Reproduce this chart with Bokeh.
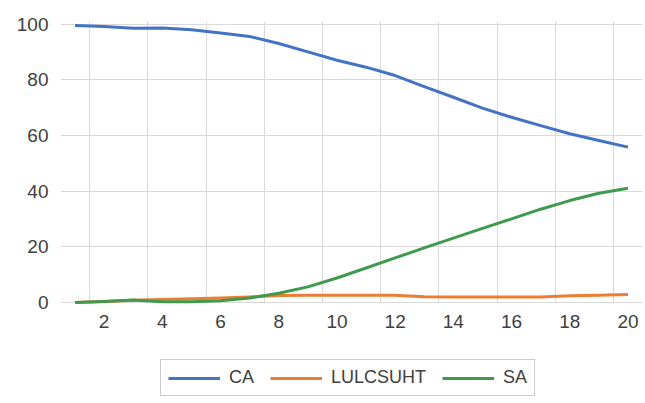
from bokeh.plotting import figure
from bokeh.models import Range1d, FixedTicker, Legend, LegendItem, BoxAnnotation
from bokeh.embed import file_html
from bokeh.resources import INLINE

# Series values per step (1..20)
steps = list(range(1, 21))
ca = [99.5, 99.1, 98.5, 98.6, 97.9, 96.8, 95.5, 93.0, 90.0, 87.0,
      84.5, 81.5, 77.5, 73.7, 69.8, 66.5, 63.5, 60.6, 58.2, 55.8]
lulcsuht = [0.0, 0.4, 0.8, 1.1, 1.3, 1.6, 2.0, 2.5, 2.6, 2.6,
            2.6, 2.6, 2.1, 2.0, 2.0, 2.0, 2.0, 2.4, 2.6, 2.9]
sa = [0.0, 0.4, 0.9, 0.3, 0.3, 0.6, 1.6, 3.3, 5.6, 8.8,
      12.4, 16.0, 19.6, 23.1, 26.6, 30.0, 33.5, 36.6, 39.2, 41.0]

x_ticks = [2, 4, 6, 8, 10, 12, 14, 16, 18, 20]
y_ticks = [0, 20, 40, 60, 80, 100]

BLUE = "#4472C4"
ORANGE = "#ED7D31"
GREEN = "#3F9A4E"
TEXT = "#404040"
GRID = "#d9d9d9"
FONT = "Liberation Sans"

# The frame reaches the bottom edge; the x axis is pinned at y=0 and the
# legend sits in the space below it.
p = figure(width=645, height=403, output_backend="svg", toolbar_location=None,
           x_range=Range1d(0.5, 20.5), y_range=Range1d(-36.27, 100.9),
           min_border_left=60, min_border_right=3,
           min_border_top=21, min_border_bottom=0)
p.outline_line_color = None
p.background_fill_color = "white"
p.border_fill_color = "white"

# Gridlines: horizontal at value ticks, vertical between category pairs
p.ygrid.ticker = FixedTicker(ticks=y_ticks)
p.xgrid.ticker = FixedTicker(ticks=[i + 0.5 for i in range(1, 20, 2)])
p.xgrid.grid_line_color = GRID
p.ygrid.grid_line_color = GRID
p.xgrid.grid_line_width = 1
p.ygrid.grid_line_width = 1

# Blank out the grid below the zero line
p.add_layout(BoxAnnotation(top=-0.25, fill_color="white", fill_alpha=1.0,
                           line_color=None, level="underlay"))

r_ca = p.line(steps, ca, line_color=BLUE, line_width=3, line_join="round")
r_lu = p.line(steps, lulcsuht, line_color=ORANGE, line_width=3, line_join="round")
r_sa = p.line(steps, sa, line_color=GREEN, line_width=3, line_join="round")

# Axes
p.xaxis.ticker = FixedTicker(ticks=x_ticks)
p.yaxis.ticker = FixedTicker(ticks=y_ticks)
p.xaxis.fixed_location = 0
for ax in (p.xaxis[0], p.yaxis[0]):
    ax.axis_line_color = None
    ax.major_tick_line_color = None
    ax.minor_tick_line_color = None
    ax.major_tick_out = 0
    ax.major_tick_in = 0
    ax.major_label_text_color = TEXT
    ax.major_label_text_font = FONT
    ax.major_label_text_font_size = "19px"
p.xaxis.major_label_standoff = 13
p.yaxis.major_label_standoff = 12

legend = Legend(items=[LegendItem(label="CA", renderers=[r_ca]),
                       LegendItem(label="LULCSUHT", renderers=[r_lu]),
                       LegendItem(label="SA", renderers=[r_sa])],
                orientation="horizontal", location=(100, 7),
                glyph_width=52, glyph_height=20, label_height=20,
                label_standoff=9, spacing=16, padding=7, margin=0,
                label_text_font=FONT, label_text_font_size="18px",
                label_text_color=TEXT, border_line_color="#cccccc",
                border_line_width=1, border_line_alpha=1.0,
                background_fill_color="white", background_fill_alpha=1.0)
p.add_layout(legend, "center")

open("out.html", "w").write(file_html(p, INLINE))
